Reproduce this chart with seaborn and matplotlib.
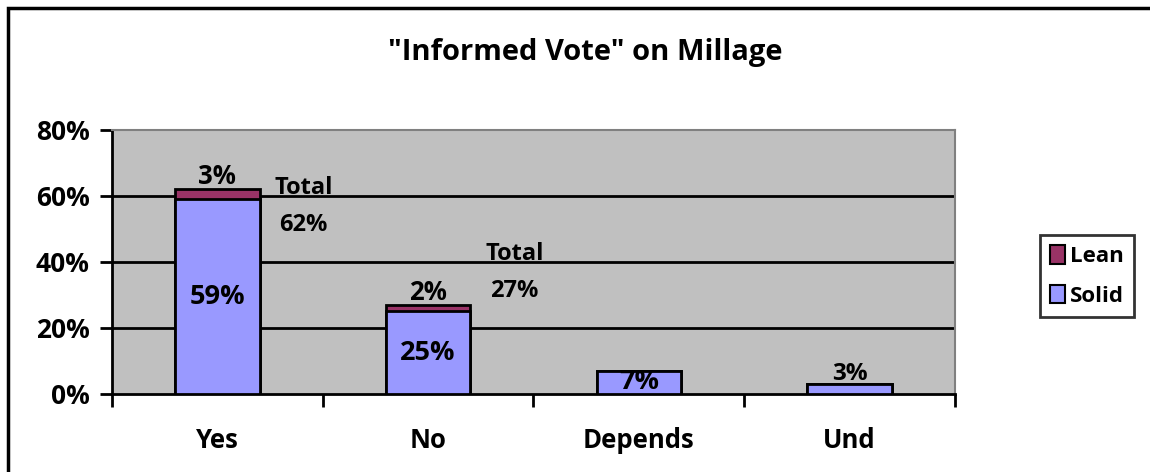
import matplotlib
matplotlib.use("Agg")
import matplotlib.pyplot as plt
from matplotlib.patches import Rectangle, Patch
import seaborn as sns
import pandas as pd

# Survey results (percent of respondents)
categories = ["Yes", "No", "Depends", "Und"]
solid = [59, 25, 7, 3]
lean = [3, 2, 0, 0]
totals = [s + l for s, l in zip(solid, lean)]
yticks = [0, 20, 40, 60, 80]

SOLID_C = "#9999FF"
LEAN_C = "#993366"
PLOT_BG = "#C0C0C0"

sns.set_theme(style="white")
plt.rcParams["font.family"] = ["Open Sans", "DejaVu Sans"]
plt.rcParams["font.weight"] = "bold"
plt.rcParams["text.color"] = "black"
plt.rcParams["xtick.color"] = "black"
plt.rcParams["ytick.color"] = "black"
plt.rcParams["axes.labelcolor"] = "black"

fig = plt.figure(figsize=(11.5, 4.72), dpi=100)
ax = fig.add_axes([0.0974, 0.1653, 0.7330, 0.5593])
ax.set_facecolor(PLOT_BG)

df = pd.DataFrame({"cat": categories, "solid": solid, "lean": lean, "total": totals})

# gridlines behind bars
for v in yticks[1:-1]:
    ax.axhline(v, color="black", lw=2, zorder=0.5)

# stacked: full total bar in lean colour, solid part drawn over it
sns.barplot(data=df, x="cat", y="total", color=LEAN_C, width=0.4, ax=ax,
            edgecolor="black", linewidth=2, saturation=1, zorder=2)
sns.barplot(data=df, x="cat", y="solid", color=SOLID_C, width=0.4, ax=ax,
            edgecolor="black", linewidth=2, saturation=1, zorder=3)

ax.set_xlim(-0.5, 3.5)
ax.set_ylim(0, 80)
ax.set_xlabel("")
ax.set_ylabel("")

# value labels
for i, (s, l, t) in enumerate(zip(solid, lean, totals)):
    if s >= 5:
        ax.text(i, s / 2, f"{s}%", ha="center", va="center", fontsize=19.5,
                fontweight="bold", color="black", zorder=5)
    else:
        ax.text(i, s - 0.6, f"{s}%", ha="center", va="bottom", fontsize=17.5,
                fontweight="bold", color="black", zorder=5)
    if l > 0:
        ax.text(i, t - 0.3, f"{l}%", ha="center", va="bottom", fontsize=18.5,
                fontweight="bold", color="black", zorder=5)
        # "Total" callout sits beside the bar, kept clear of the gridline below
        ty = max(t, 42) + 0.4
        ax.text(i + 0.41, ty, "Total", ha="center", va="center",
                fontsize=17, fontweight="bold", color="black", zorder=5)
        ax.text(i + 0.41, ty - 11.2, f"{t}%", ha="center", va="center",
                fontsize=17, fontweight="bold", color="black", zorder=5)

# axes styling
ax.set_yticks(yticks)
ax.set_yticklabels([f"{v}%" for v in yticks], fontsize=19, fontweight="bold")
ax.set_xticks([-0.5, 0.5, 1.5, 2.5, 3.5])
ax.set_xticklabels([])
ax.set_xticks(range(len(categories)), minor=True)
ax.set_xticklabels(categories, minor=True, fontsize=18.5, fontweight="bold")
ax.tick_params(axis="y", which="major", direction="out", length=9, width=2,
               color="black", labelcolor="black", left=True, pad=7)
ax.tick_params(axis="x", which="major", direction="out", length=9, width=2,
               color="black", bottom=True)
ax.tick_params(axis="x", which="minor", length=0, pad=24, labelcolor="black")

for side in ("left", "bottom"):
    ax.spines[side].set_color("black")
    ax.spines[side].set_linewidth(2)
for side in ("top", "right"):
    ax.spines[side].set_color("#808080")
    ax.spines[side].set_linewidth(1.5)

fig.text(0.509, 0.888, '"Informed Vote" on Millage', ha="center", va="center",
         fontsize=21, fontweight="bold", color="black")

handles = [Patch(facecolor=LEAN_C, edgecolor="black", linewidth=1.5, label="Lean"),
           Patch(facecolor=SOLID_C, edgecolor="black", linewidth=1.5, label="Solid")]
leg = fig.legend(handles=handles, loc="upper left", bbox_to_anchor=(0.904, 0.502),
                 frameon=True, fancybox=False, fontsize=16, handlelength=0.7,
                 handleheight=0.9, handletextpad=0.2, borderpad=0.45,
                 labelspacing=0.8, borderaxespad=0)
leg.get_frame().set_edgecolor("black")
leg.get_frame().set_linewidth(2)
for t in leg.get_texts():
    t.set_fontweight("bold")
    t.set_color("black")

# outer chart border
fig.patches.append(Rectangle((8 / 1150, -0.2), 1.2, 1.2 - 8 / 472,
                             transform=fig.transFigure, fill=False,
                             edgecolor="black", linewidth=2.5))

fig.savefig("out.png", dpi=100)
